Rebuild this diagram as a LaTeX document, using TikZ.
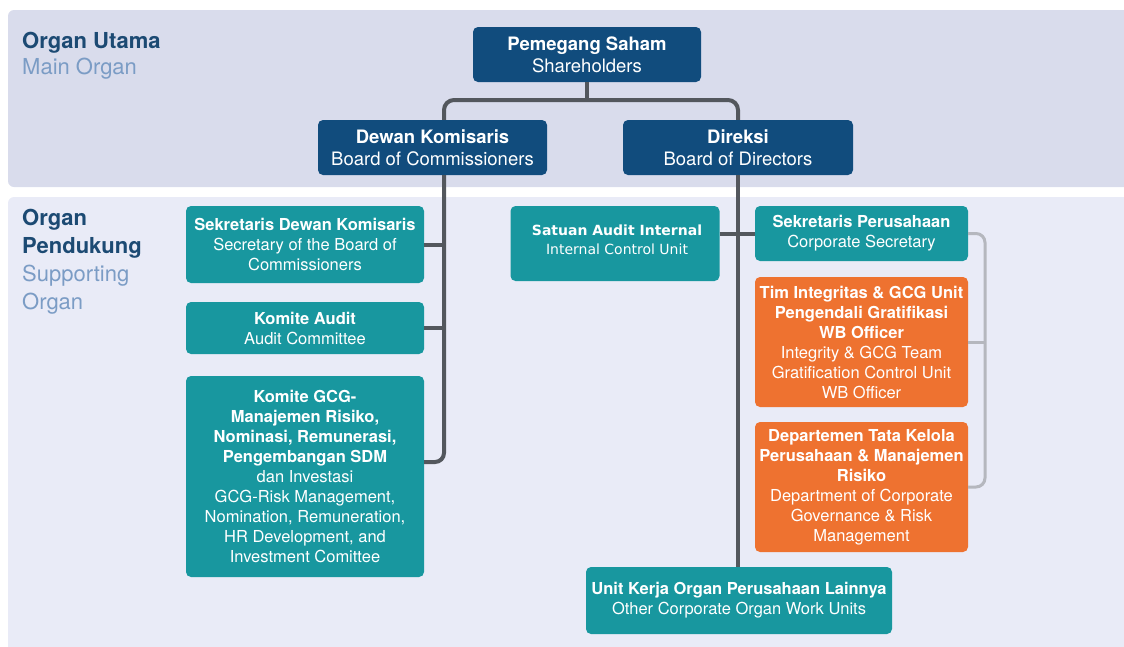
\documentclass[tikz,border=0pt]{standalone}
\usepackage{fontspec}
\setmainfont{TeX Gyre Heros}
\newfontfamily\verdanalike{DejaVu Sans}
\definecolor{bandtop}{HTML}{D9DCEC}
\definecolor{bandbot}{HTML}{E9EBF7}
\definecolor{navyc}{HTML}{114C7D}
\definecolor{tealc}{HTML}{18979F}
\definecolor{orangec}{HTML}{EE7230}
\definecolor{lbldark}{HTML}{1C4A73}
\definecolor{lbllight}{HTML}{7B9CC5}
\definecolor{connc}{HTML}{53575D}
\definecolor{brkc}{HTML}{B5B7BE}
\tikzset{
  box/.style={rectangle, rounded corners=5pt, text=white, align=center, inner sep=0pt},
  navybox/.style={box, fill=navyc, font=\fontsize{18.5}{22}\selectfont},
  tealbox/.style={box, fill=tealc, font=\fontsize{16.5}{20}\selectfont},
  orangebox/.style={box, fill=orangec, font=\fontsize{16.5}{20}\selectfont},
  boxtxt/.style={text=white, align=center, inner sep=0pt, font=\verdanalike\fontsize{14}{19}\selectfont},
  conn/.style={draw=connc, line width=4pt},
  brk/.style={draw=brkc, line width=3pt},
  lblA/.style={anchor=base west, inner sep=0pt, text=lbldark, font=\fontsize{22}{26}\selectfont\bfseries},
  lblB/.style={anchor=base west, inner sep=0pt, text=lbllight, font=\fontsize{22}{26}\selectfont}
}
\begin{document}
\begin{tikzpicture}[x=1pt, y=-1pt]
\useasboundingbox (0,0) rectangle (1124,646);
% bands
\fill[bandtop, rounded corners=6pt] (8,10) rectangle (1140,187);
\fill[bandbot, rounded corners=6pt] (8,197) rectangle (1140,660);
% labels
\node[lblA] (ou1) at (22,48) {Organ Utama};
\node[lblB] (ou2) at (22,74) {Main Organ};
\node[lblA] (op1) at (22,225) {Organ};
\node[lblA] (op2) at (22,253) {Pendukung};
\node[lblB] (op3) at (22,281) {Supporting};
\node[lblB] (op4) at (22,309) {Organ};
% main organ boxes
\node[navybox, minimum width=228, minimum height=55] (sh) at (587,54.5) {\textbf{Pemegang Saham}\\Shareholders};
\node[navybox, minimum width=229, minimum height=55] (dk) at (432.5,147.5) {\textbf{Dewan Komisaris}\\Board of Commissioners};
\node[navybox, minimum width=230, minimum height=55] (dir) at (738,147.5) {\textbf{Direksi}\\Board of Directors};
% supporting organ boxes
\node[tealbox, minimum width=238, minimum height=77] (sdk) at (305,244.5) {\textbf{Sekretaris Dewan Komisaris}\\Secretary of the Board of\\Commissioners};
\node[tealbox, minimum width=238, minimum height=52] (ka) at (305,328) {\textbf{Komite Audit}\\Audit Committee};
\node[tealbox, minimum width=238, minimum height=201] (kgcg) at (305,476.5) {\textbf{Komite GCG-}\\\textbf{Manajemen Risiko,}\\\textbf{Nominasi, Remunerasi,}\\\textbf{Pengembangan SDM}\\dan Investasi\\GCG-Risk Management,\\Nomination, Remuneration,\\HR Development, and\\Investment Comittee};
\node[tealbox, minimum width=209, minimum height=75] (sai) at (615,243.5) {};
\node[boxtxt] (saitxt) at (617,239.5) {\textbf{Satuan Audit Internal}\\Internal Control Unit};
\node[tealbox, minimum width=213, minimum height=55] (sp) at (861.5,233.5) {\textbf{Sekretaris Perusahaan}\\Corporate Secretary};
\node[orangebox, minimum width=213, minimum height=130] (tim) at (861.5,342) {\textbf{Tim Integritas \& GCG Unit}\\\textbf{Pengendali Gratifikasi}\\\textbf{WB Officer}\\Integrity \& GCG Team\\Gratification Control Unit\\WB Officer};
\node[orangebox, minimum width=213, minimum height=130] (dtk) at (861.5,487) {\textbf{Departemen Tata Kelola}\\\textbf{Perusahaan \& Manajemen}\\\textbf{Risiko}\\Department of Corporate\\Governance \& Risk\\Management};
\node[tealbox, minimum width=306, minimum height=67] (uk) at (739,600.5) {\textbf{Unit Kerja Organ Perusahaan Lainnya}\\Other Corporate Organ Work Units};
% helper coordinates
\coordinate (tbar) at (0,100);
\coordinate (dkx) at (444,0);
\coordinate (kgy) at (0,462);
\coordinate (brx) at (985,0);
% connectors
\draw[conn] (sh.south) -- (sh.south |- tbar);
\draw[conn, rounded corners=10pt] (dkx |- dk.north) -- (dkx |- tbar) -- (dir.north |- tbar) -- (dir.north);
\draw[conn, rounded corners=9pt] (dkx |- dk.south) -- (dkx |- kgy) -- (kgcg.east |- kgy);
\draw[conn] (sdk.east) -- (dkx |- sdk.east);
\draw[conn] (ka.east) -- (dkx |- ka.east);
\draw[conn] (dir.south) -- (dir.south |- uk.north);
\draw[conn] (sai.east |- sp.west) -- (sp.west);
\draw[brk, rounded corners=9pt] (sp.east) -- (brx |- sp.east) -- (brx |- dtk.east) -- (dtk.east);
\draw[brk] (tim.east) -- (brx |- tim.east);
\end{tikzpicture}
\end{document}
